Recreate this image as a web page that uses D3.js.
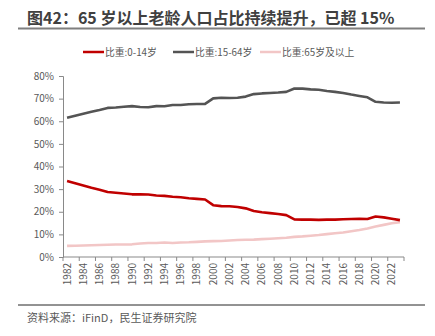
<!DOCTYPE html>
<html>
<head>
<meta charset="utf-8">
<script src="https://cdn.jsdelivr.net/npm/d3@7"></script>
<style>
  body { margin: 0; background: #fff; }
  svg { font-family: "Noto Sans CJK SC", "Noto Sans", sans-serif; }
</style>
</head>
<body>
<div id="chart"></div>
<script>
const years = d3.range(1982, 2024).map(String);

const young = [33.6, 32.6, 31.6, 30.6, 29.7, 28.7, 28.4, 28.1, 27.7, 27.7,
  27.6, 27.2, 27.0, 26.6, 26.4, 26.0, 25.7, 25.4, 22.9, 22.5,
  22.4, 22.1, 21.5, 20.3, 19.8, 19.4, 19.0, 18.5, 16.6, 16.5,
  16.5, 16.4, 16.5, 16.5, 16.7, 16.8, 16.9, 16.8, 17.9, 17.5,
  16.9, 16.3];

const working = [61.5, 62.4, 63.3, 64.2, 65.0, 65.9, 66.1, 66.4, 66.7, 66.3,
  66.2, 66.7, 66.6, 67.2, 67.2, 67.5, 67.6, 67.7, 70.1, 70.4,
  70.3, 70.4, 70.9, 72.0, 72.3, 72.5, 72.7, 73.0, 74.5, 74.4,
  74.1, 73.9, 73.4, 73.0, 72.5, 71.8, 71.2, 70.6, 68.6, 68.3,
  68.2, 68.3];

const elderly = [4.9, 5.0, 5.1, 5.2, 5.3, 5.4, 5.5, 5.5, 5.6, 6.0,
  6.2, 6.2, 6.4, 6.2, 6.4, 6.5, 6.7, 6.9, 7.0, 7.1,
  7.3, 7.5, 7.6, 7.7, 7.9, 8.1, 8.3, 8.5, 8.9, 9.1,
  9.4, 9.7, 10.1, 10.5, 10.8, 11.4, 11.9, 12.6, 13.5, 14.2,
  14.9, 15.4];

const yTicks = [0, 10, 20, 30, 40, 50, 60, 70, 80];

const series = [
  { name: '比重:0-14岁', values: young, color: '#C00000' },
  { name: '比重:15-64岁', values: working, color: '#545454' },
  { name: '比重:65岁及以上', values: elderly, color: '#F2C6C6' }
];

const W = 435, H = 336;
const margin = { left: 63, right: 31, top: 76, bottom: 79 };

const svg = d3.select('#chart').append('svg')
  .attr('width', W)
  .attr('height', H);

// title
svg.append('text')
  .attr('x', 27).attr('y', 24)
  .attr('font-size', 16)
  .attr('font-weight', 'bold')
  .attr('fill', '#404040')
  .text('图42：65 岁以上老龄人口占比持续提升，已超 15%');

svg.append('line')
  .attr('x1', 18).attr('x2', 425)
  .attr('y1', 28.5).attr('y2', 28.5)
  .attr('stroke', '#7f7f7f').attr('stroke-width', 2);

// legend
const legendX = [83, 173, 260];
series.forEach((s, i) => {
  const g = svg.append('g').attr('transform', `translate(${legendX[i]},52)`);
  g.append('line')
    .attr('x1', 0).attr('x2', 21)
    .attr('stroke', s.color).attr('stroke-width', 2.5);
  g.append('text')
    .attr('x', 22).attr('y', 3.5)
    .attr('font-size', 9.8)
    .attr('fill', '#595959')
    .text(s.name);
});

const x = d3.scaleBand()
  .domain(years)
  .range([margin.left, W - margin.right]);

const y = d3.scaleLinear()
  .domain([0, 80])
  .range([H - margin.bottom, margin.top]);

// y axis
const yAxis = d3.axisLeft(y)
  .tickValues(yTicks)
  .tickSize(4)
  .tickPadding(5)
  .tickFormat(d => d + '%');

const gy = svg.append('g')
  .attr('transform', `translate(${margin.left},0)`)
  .call(yAxis);
gy.select('.domain').attr('stroke', '#898989');
gy.selectAll('.tick line').attr('stroke', '#898989');
gy.selectAll('.tick text').attr('fill', '#595959').attr('font-size', 10)
  .attr('font-family', '"Noto Sans CJK SC", sans-serif');

// x axis: ticks every 2 years at band boundaries
const gx = svg.append('g')
  .attr('transform', `translate(0,${H - margin.bottom})`);
gx.append('line')
  .attr('x1', margin.left).attr('x2', W - margin.right)
  .attr('stroke', '#898989');
const tickYears = years.filter((d, i) => i % 2 === 0);
gx.selectAll('.tk').data(tickYears.concat(['end']))
  .enter().append('line')
  .attr('x1', d => d === 'end' ? x.range()[1] : x(d))
  .attr('x2', d => d === 'end' ? x.range()[1] : x(d))
  .attr('y1', 0).attr('y2', 4)
  .attr('stroke', '#898989');
gx.selectAll('.lbl').data(tickYears)
  .enter().append('text')
  .attr('transform', d => `translate(${x(d) + x.bandwidth() / 2 + 3.5},6) rotate(-90)`)
  .attr('text-anchor', 'end')
  .attr('font-size', 10)
  .attr('fill', '#595959')
  .text(d => d);

// lines
const line = d3.line()
  .x((d, i) => x(years[i]) + x.bandwidth() / 2)
  .y(d => y(d));

series.slice().reverse().forEach(s => {
  svg.append('path')
    .datum(s.values)
    .attr('fill', 'none')
    .attr('stroke', s.color)
    .attr('stroke-width', 2.6)
    .attr('stroke-linejoin', 'round')
    .attr('d', line);
});

// footer
svg.append('line')
  .attr('x1', 18).attr('x2', 425)
  .attr('y1', 305).attr('y2', 305)
  .attr('stroke', '#262626').attr('stroke-width', 1);

svg.append('text')
  .attr('x', 27).attr('y', 322)
  .attr('font-size', 11)
  .attr('fill', '#595959')
  .text('资料来源：iFinD，民生证券研究院');
</script>
</body>
</html>
